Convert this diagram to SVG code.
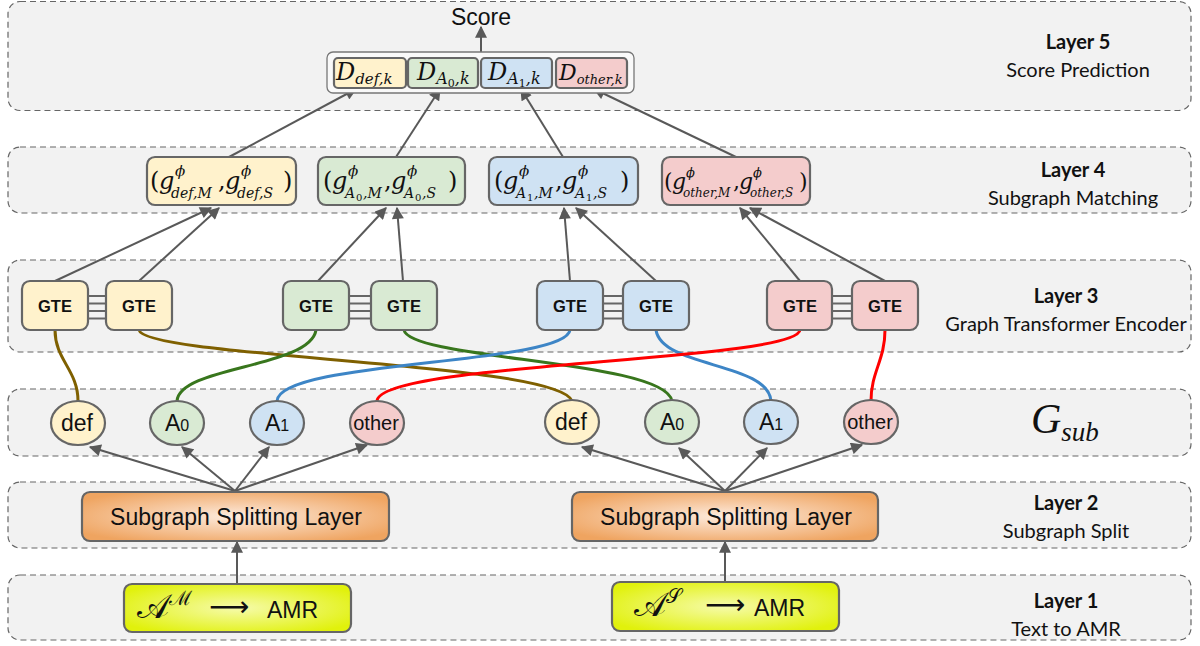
<svg xmlns="http://www.w3.org/2000/svg" width="1200" height="646" viewBox="0 0 1200 646">
  <defs>
    <marker id="arr" viewBox="0 0 10 10" refX="9" refY="5" markerWidth="13" markerHeight="12" markerUnits="userSpaceOnUse" orient="auto">
      <path d="M0,0 L10,5 L0,10 z" fill="#595959"/>
    </marker>
    <radialGradient id="gOrange" cx="0.5" cy="0.5" r="0.6">
      <stop offset="0" stop-color="#fdebde"/>
      <stop offset="1" stop-color="#efa460"/>
    </radialGradient>
    <radialGradient id="gLime" cx="0.5" cy="0.5" r="0.6">
      <stop offset="0" stop-color="#f6fbab"/>
      <stop offset="1" stop-color="#e1f10c"/>
    </radialGradient>
    <style>
      .band { fill: #f2f2f2; stroke: #666; stroke-width: 1.2; stroke-dasharray: 6 4; }
      .box { stroke: #666; stroke-width: 2.2; }
      .yel { fill: #fff2cc; }
      .grn { fill: #d9ead3; }
      .blu { fill: #cfe2f3; }
      .red { fill: #f4cccc; }
      .edge { fill: none; stroke: #595959; stroke-width: 2; }
      .curve { fill: none; stroke-width: 3; }
      .lt { font-family: "Lato", "Liberation Sans", sans-serif; font-size: 20px; fill: #111; text-anchor: middle; }
      .ltb { font-weight: bold; }
      .sans { font-family: "Liberation Sans", Arial, sans-serif; fill: #111; }
      .math { font-family: "DejaVu Serif", "Liberation Serif", serif; font-style: italic; fill: #111; }
      .up { font-style: normal; }
      .gte { font-family: "Liberation Sans", Arial, sans-serif; font-weight: bold; font-size: 16.5px; text-anchor: middle; fill: #111; }
    </style>
  </defs>

  <rect width="1200" height="646" fill="#ffffff"/>

  <!-- layer bands -->
  <g id="bands">
    <rect class="band" x="8" y="1.5" width="1183" height="109" rx="12"/>
    <rect class="band" x="8" y="147" width="1183" height="66" rx="12"/>
    <rect class="band" x="8" y="260" width="1183" height="92" rx="12"/>
    <rect class="band" x="8" y="389" width="1183" height="67" rx="12"/>
    <rect class="band" x="8" y="482" width="1183" height="66" rx="12"/>
    <rect class="band" x="8" y="575" width="1183" height="65" rx="12"/>
  </g>

  <!-- layer captions -->
  <g id="captions">
    <text class="lt ltb" x="1078" y="49">Layer 5</text>
    <text class="lt" x="1078" y="77">Score Prediction</text>
    <text class="lt ltb" x="1073" y="177">Layer 4</text>
    <text class="lt" x="1073" y="205">Subgraph Matching</text>
    <text class="lt ltb" x="1066" y="303">Layer 3</text>
    <text class="lt" x="1066" y="331">Graph Transformer Encoder</text>
    <text font-family="Liberation Serif, serif" font-style="italic" fill="#111" x="1031" y="433" font-size="42">G<tspan font-size="27" dy="8">sub</tspan></text>
    <text class="lt ltb" x="1066" y="510">Layer 2</text>
    <text class="lt" x="1066" y="538">Subgraph Split</text>
    <text class="lt ltb" x="1066" y="608">Layer 1</text>
    <text class="lt" x="1066" y="636">Text to AMR</text>
  </g>

  <!-- connectors -->
  <g id="connectors">
    <!-- score output -->
    <line class="edge" x1="481" y1="52" x2="481" y2="27" marker-end="url(#arr)"/>
    <!-- layer 4 to layer 5 -->
    <line class="edge" x1="229" y1="157" x2="356" y2="89" marker-end="url(#arr)"/>
    <line class="edge" x1="396" y1="157" x2="440" y2="89" marker-end="url(#arr)"/>
    <line class="edge" x1="563" y1="157" x2="521" y2="89" marker-end="url(#arr)"/>
    <line class="edge" x1="736" y1="157" x2="594" y2="89" marker-end="url(#arr)"/>
    <!-- layer 3 to layer 4 -->
    <line class="edge" x1="55" y1="281" x2="211" y2="208" marker-end="url(#arr)"/>
    <line class="edge" x1="139" y1="281" x2="219" y2="208" marker-end="url(#arr)"/>
    <line class="edge" x1="318" y1="281" x2="386" y2="208" marker-end="url(#arr)"/>
    <line class="edge" x1="403" y1="281" x2="397" y2="208" marker-end="url(#arr)"/>
    <line class="edge" x1="570" y1="281" x2="564" y2="208" marker-end="url(#arr)"/>
    <line class="edge" x1="656" y1="281" x2="576" y2="208" marker-end="url(#arr)"/>
    <line class="edge" x1="800" y1="281" x2="740" y2="208" marker-end="url(#arr)"/>
    <line class="edge" x1="885" y1="281" x2="750" y2="208" marker-end="url(#arr)"/>
    <!-- layer 2 to subgraph nodes -->
    <line class="edge" x1="235" y1="491" x2="90" y2="447" marker-end="url(#arr)"/>
    <line class="edge" x1="235" y1="491" x2="182" y2="447" marker-end="url(#arr)"/>
    <line class="edge" x1="235" y1="491" x2="269" y2="447" marker-end="url(#arr)"/>
    <line class="edge" x1="235" y1="491" x2="367" y2="445" marker-end="url(#arr)"/>
    <line class="edge" x1="725" y1="491" x2="582" y2="447" marker-end="url(#arr)"/>
    <line class="edge" x1="725" y1="491" x2="679" y2="448" marker-end="url(#arr)"/>
    <line class="edge" x1="725" y1="491" x2="767" y2="448" marker-end="url(#arr)"/>
    <line class="edge" x1="725" y1="491" x2="862" y2="445" marker-end="url(#arr)"/>
    <!-- layer 1 to layer 2 -->
    <line class="edge" x1="237" y1="584" x2="237" y2="542" marker-end="url(#arr)"/>
    <line class="edge" x1="725" y1="582" x2="725" y2="542" marker-end="url(#arr)"/>
    <!-- GTE pair links -->
    <g stroke="#666" stroke-width="2">
      <path d="M88,296 H106 M88,303.5 H106 M88,311 H106 M88,318.5 H106"/>
      <path d="M349,296 H371 M349,303.5 H371 M349,311 H371 M349,318.5 H371"/>
      <path d="M603,296 H623 M603,303.5 H623 M603,311 H623 M603,318.5 H623"/>
      <path d="M832,296 H852 M832,303.5 H852 M832,311 H852 M832,318.5 H852"/>
    </g>
    <!-- subgraph nodes to encoders -->
    <path class="curve" stroke="#7f6000" d="M55,330 C55,360 78,370 78,401"/>
    <path class="curve" stroke="#7f6000" d="M139,330 C145,358 560,362 572,401"/>
    <path class="curve" stroke="#38761d" d="M177,401 C180,366 310,368 316,330"/>
    <path class="curve" stroke="#38761d" d="M404,330 C410,360 665,360 672,401"/>
    <path class="curve" stroke="#3d85c6" d="M277,401 C280,360 565,365 570,330"/>
    <path class="curve" stroke="#3d85c6" d="M656,330 C662,368 768,362 771,401"/>
    <path class="curve" stroke="#ff0000" d="M377,401 C380,362 795,362 800,330"/>
    <path class="curve" stroke="#ff0000" d="M885,330 C885,360 871,372 871,401"/>
  </g>

  <!-- layer 5: score -->
  <g id="score">
    <text class="sans" x="481" y="25" font-size="23" text-anchor="middle">Score</text>
    <rect x="327" y="52" width="307" height="41" rx="6" fill="#f9f9f9" stroke="#777" stroke-width="1.3"/>
  </g>
  <g id="d-def">
    <rect class="box yel" x="334" y="58" width="72" height="30" rx="4"/>
    <text class="math" x="336" y="80" font-size="24">D<tspan font-size="15" dy="4">def,k</tspan></text>
  </g>
  <g id="d-a0">
    <rect class="box grn" x="408" y="58" width="70" height="30" rx="4"/>
    <text class="math" x="417" y="80" font-size="24">D<tspan font-size="16" dy="4">A</tspan><tspan class="up" font-size="11" dy="3">0</tspan><tspan font-size="16" dy="-3">,k</tspan></text>
  </g>
  <g id="d-a1">
    <rect class="box blu" x="481" y="58" width="71" height="30" rx="4"/>
    <text class="math" x="488" y="80" font-size="24">D<tspan font-size="16" dy="4">A</tspan><tspan class="up" font-size="11" dy="3">1</tspan><tspan font-size="16" dy="-3">,k</tspan></text>
  </g>
  <g id="d-other">
    <rect class="box red" x="556" y="58" width="71" height="30" rx="4"/>
    <text class="math" x="559" y="80" font-size="22">D<tspan font-size="13" dy="4">other,k</tspan></text>
  </g>

  <!-- layer 4: matching pairs -->
  <g id="m-def">
    <rect class="box yel" x="147" y="157" width="149" height="48" rx="8"/>
    <text class="math" font-size="24"><tspan class="up" x="150" y="189">(</tspan><tspan x="159" y="189">g</tspan><tspan x="175" y="176" font-size="15">ϕ</tspan><tspan x="171" y="198" font-size="14">def,M</tspan><tspan class="up" x="218" y="189">,</tspan><tspan x="225" y="189">g</tspan><tspan x="241" y="176" font-size="15">ϕ</tspan><tspan x="237" y="198" font-size="14">def,S</tspan><tspan class="up" x="283" y="189">)</tspan></text>
  </g>
  <g id="m-a0">
    <rect class="box grn" x="318" y="157" width="147" height="48" rx="8"/>
    <text class="math" font-size="24"><tspan class="up" x="323" y="189">(</tspan><tspan x="332" y="189">g</tspan><tspan x="348" y="176" font-size="15">ϕ</tspan><tspan x="345" y="198" font-size="14">A</tspan><tspan class="up" x="356" y="201" font-size="10">0</tspan><tspan x="363" y="198" font-size="14">,M</tspan><tspan class="up" x="384" y="189">,</tspan><tspan x="391" y="189">g</tspan><tspan x="407" y="176" font-size="15">ϕ</tspan><tspan x="404" y="198" font-size="14">A</tspan><tspan class="up" x="415" y="201" font-size="10">0</tspan><tspan x="422" y="198" font-size="14">,S</tspan><tspan class="up" x="448" y="189">)</tspan></text>
  </g>
  <g id="m-a1">
    <rect class="box blu" x="489" y="157" width="149" height="48" rx="8"/>
    <text class="math" font-size="24"><tspan class="up" x="494" y="189">(</tspan><tspan x="503" y="189">g</tspan><tspan x="519" y="176" font-size="15">ϕ</tspan><tspan x="516" y="198" font-size="14">A</tspan><tspan class="up" x="527" y="201" font-size="10">1</tspan><tspan x="534" y="198" font-size="14">,M</tspan><tspan class="up" x="555" y="189">,</tspan><tspan x="562" y="189">g</tspan><tspan x="578" y="176" font-size="15">ϕ</tspan><tspan x="575" y="198" font-size="14">A</tspan><tspan class="up" x="586" y="201" font-size="10">1</tspan><tspan x="593" y="198" font-size="14">,S</tspan><tspan class="up" x="620" y="189">)</tspan></text>
  </g>
  <g id="m-other">
    <rect class="box red" x="662" y="157" width="148" height="48" rx="8"/>
    <text class="math" font-size="22"><tspan class="up" x="664" y="189">(</tspan><tspan x="672" y="189">g</tspan><tspan x="686" y="177" font-size="13">ϕ</tspan><tspan x="683" y="197" font-size="12">other,M</tspan><tspan class="up" x="733" y="189">,</tspan><tspan x="739" y="189">g</tspan><tspan x="753" y="177" font-size="13">ϕ</tspan><tspan x="750" y="197" font-size="12">other,S</tspan><tspan class="up" x="799" y="189">)</tspan></text>
  </g>

  <!-- layer 3: graph transformer encoders -->
  <g id="gte-def-m"><rect class="box yel" x="22" y="281" width="66" height="49" rx="8"/><text class="gte" x="55" y="312">GTE</text></g>
  <g id="gte-def-s"><rect class="box yel" x="106" y="281" width="66" height="49" rx="8"/><text class="gte" x="139" y="312">GTE</text></g>
  <g id="gte-a0-m"><rect class="box grn" x="283" y="281" width="66" height="49" rx="8"/><text class="gte" x="316" y="312">GTE</text></g>
  <g id="gte-a0-s"><rect class="box grn" x="371" y="281" width="66" height="49" rx="8"/><text class="gte" x="404" y="312">GTE</text></g>
  <g id="gte-a1-m"><rect class="box blu" x="537" y="281" width="66" height="49" rx="8"/><text class="gte" x="570" y="312">GTE</text></g>
  <g id="gte-a1-s"><rect class="box blu" x="623" y="281" width="66" height="49" rx="8"/><text class="gte" x="656" y="312">GTE</text></g>
  <g id="gte-other-m"><rect class="box red" x="767" y="281" width="65" height="49" rx="8"/><text class="gte" x="800" y="312">GTE</text></g>
  <g id="gte-other-s"><rect class="box red" x="852" y="281" width="66" height="49" rx="8"/><text class="gte" x="885" y="312">GTE</text></g>

  <!-- subgraph nodes -->
  <g id="n-def-m"><ellipse class="box yel" cx="78" cy="423" rx="27" ry="22"/><text class="sans" x="77" y="431" font-size="23" text-anchor="middle">def</text></g>
  <g id="n-a0-m"><ellipse class="box grn" cx="177" cy="423" rx="27" ry="22"/><text class="sans" x="177" y="431" font-size="23" text-anchor="middle">A<tspan font-size="16">0</tspan></text></g>
  <g id="n-a1-m"><ellipse class="box blu" cx="277" cy="423" rx="27" ry="22"/><text class="sans" x="277" y="431" font-size="23" text-anchor="middle">A<tspan font-size="16">1</tspan></text></g>
  <g id="n-other-m"><ellipse class="box red" cx="377" cy="423" rx="27" ry="22"/><text class="sans" x="376" y="430" font-size="20" text-anchor="middle">other</text></g>
  <g id="n-def-s"><ellipse class="box yel" cx="572" cy="422" rx="27" ry="22"/><text class="sans" x="571" y="430" font-size="23" text-anchor="middle">def</text></g>
  <g id="n-a0-s"><ellipse class="box grn" cx="672" cy="422" rx="27" ry="22"/><text class="sans" x="672" y="430" font-size="23" text-anchor="middle">A<tspan font-size="16">0</tspan></text></g>
  <g id="n-a1-s"><ellipse class="box blu" cx="771" cy="422" rx="27" ry="22"/><text class="sans" x="771" y="430" font-size="23" text-anchor="middle">A<tspan font-size="16">1</tspan></text></g>
  <g id="n-other-s"><ellipse class="box red" cx="871" cy="422" rx="27" ry="22"/><text class="sans" x="870" y="429" font-size="20" text-anchor="middle">other</text></g>

  <!-- layer 2: splitting -->
  <g id="split-m">
    <rect x="82" y="492" width="307" height="49" rx="8" fill="url(#gOrange)" stroke="#666" stroke-width="2.2"/>
    <text class="sans" x="236" y="525" font-size="23" text-anchor="middle">Subgraph Splitting Layer</text>
  </g>
  <g id="split-s">
    <rect x="572" y="492" width="306" height="49" rx="8" fill="url(#gOrange)" stroke="#666" stroke-width="2.2"/>
    <text class="sans" x="726" y="525" font-size="23" text-anchor="middle">Subgraph Splitting Layer</text>
  </g>

  <!-- layer 1: text to AMR -->
  <g id="amr-m">
    <rect x="124" y="584" width="227" height="48" rx="8" fill="url(#gLime)" stroke="#666" stroke-width="2.2"/>
    <text x="137" y="618" font-size="34" font-family="DejaVu Serif, serif" fill="#111">𝒜<tspan font-size="20" dy="-13">ℳ</tspan></text>
    <text x="209" y="616" font-size="28" font-family="DejaVu Sans, sans-serif" fill="#111">⟶</text>
    <text class="sans" x="267" y="618" font-size="23">AMR</text>
  </g>
  <g id="amr-s">
    <rect x="612" y="582" width="227" height="49" rx="8" fill="url(#gLime)" stroke="#666" stroke-width="2.2"/>
    <text x="634" y="616" font-size="34" font-family="DejaVu Serif, serif" fill="#111">𝒜<tspan font-size="20" dy="-13">𝒮</tspan></text>
    <text x="705" y="614" font-size="28" font-family="DejaVu Sans, sans-serif" fill="#111">⟶</text>
    <text class="sans" x="754" y="616" font-size="23">AMR</text>
  </g>
</svg>
